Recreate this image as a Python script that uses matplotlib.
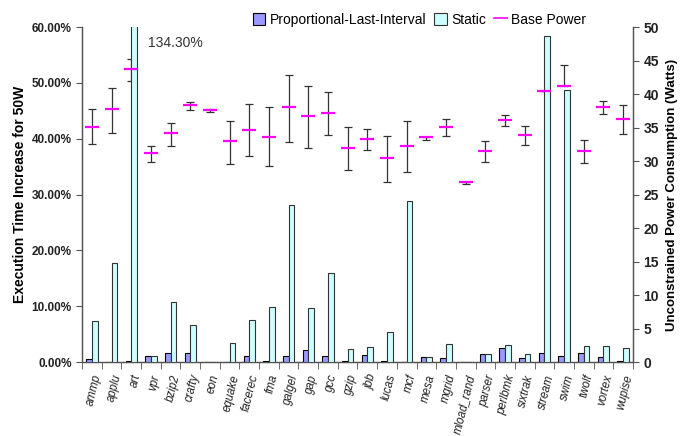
import matplotlib
matplotlib.use("Agg")
import matplotlib.pyplot as plt
import numpy as np
from matplotlib.ticker import FuncFormatter, MultipleLocator
from matplotlib.lines import Line2D
from matplotlib.patches import Patch

plt.rcParams['font.family'] = ['Liberation Sans', 'DejaVu Sans']

categories = ["ammp", "applu", "art", "vpr", "bzip2", "crafty", "eon", "equake",
              "facerec", "fma", "galgel", "gap", "gcc", "gzip", "jbb", "lucas",
              "mcf", "mesa", "mgrid", "mload_rand", "parser", "perlbmk", "sixtrak",
              "stream", "swim", "twolf", "vortex", "wupise"]

# execution time increase (%)
proportional = [0.5, 0.0, 0.1, 1.1, 1.7, 1.6, 0.0, 0.0, 1.0, 0.1, 1.0, 2.1, 1.0, 0.1,
                1.3, 0.25, 0.0, 0.95, 0.65, 0.0, 1.4, 2.45, 0.65, 1.6, 1.0, 1.6, 0.84, 0.1]
static = [7.3, 17.7, 134.3, 1.0, 10.7, 6.7, 0.0, 3.4, 7.5, 9.9, 28.1, 9.6, 15.9, 2.3,
          2.7, 5.3, 28.8, 0.95, 3.2, 0.0, 1.4, 3.1, 1.4, 58.4, 48.8, 2.8, 2.9, 2.45]

# base power (Watts) with min / max
base_power = [35.1, 37.8, 43.7, 31.2, 34.2, 38.4, 37.6, 33.0, 34.7, 33.6, 38.0, 36.7,
              37.2, 31.9, 33.3, 30.4, 32.2, 33.6, 35.1, 26.8, 31.5, 36.1, 33.9, 40.4,
              41.2, 31.5, 38.0, 36.3]
power_max = [37.8, 40.9, 45.3, 32.3, 35.7, 38.8, 37.7, 36.0, 38.5, 38.1, 42.9, 41.2,
             40.3, 35.1, 34.8, 33.7, 35.9, 33.6, 36.3, 26.8, 33.0, 36.8, 35.2, 40.4,
             44.4, 33.2, 38.9, 38.3]
power_min = [32.5, 34.2, 42.0, 29.9, 32.3, 37.6, 37.3, 29.6, 30.8, 29.3, 32.9, 32.0,
             33.9, 28.6, 31.6, 26.9, 28.3, 33.2, 33.7, 26.6, 29.9, 35.2, 32.4, 40.4,
             41.2, 29.7, 37.0, 34.1]

fig = plt.figure(figsize=(6.91, 4.36), dpi=100)
ax = fig.add_axes([0.1187, 0.1697, 0.7973, 0.7683])
ax2 = ax.twinx()

x = np.arange(len(categories))
w = 0.29
ax.set_zorder(2)
ax2.set_zorder(1)
ax.patch.set_visible(False)

ax.bar(x - w / 2, proportional, w, color='#9999FF', edgecolor='black', linewidth=0.8, zorder=3)
ax.bar(x + w / 2, static, w, color='#CCFFFF', edgecolor='#333333', linewidth=0.8, zorder=3)

bp = np.array(base_power)
lo = bp - np.array(power_min)
hi = np.array(power_max) - bp
ax2.errorbar(x, bp, yerr=[lo, hi], fmt='none', ecolor='#333333', elinewidth=0.9,
             capsize=2.7, capthick=0.9, zorder=1)

# magenta base power markers on top of bars (right-axis watts mapped onto left axis)
ax.plot(x, bp / 50 * 60, linestyle='none', marker='_', markersize=9.5,
        markeredgewidth=1.6, color='#FF00FF', zorder=5)

ax.set_xlim(-0.5, len(categories) - 0.5)
ax.set_ylim(0, 60)
ax2.set_ylim(0, 50)
ax.yaxis.set_major_locator(MultipleLocator(10))
ax.yaxis.set_major_formatter(FuncFormatter(lambda v, p: f"{v:.2f}%"))
ax2.yaxis.set_major_locator(MultipleLocator(5))

ax.set_xticks(x)
ax.set_xticklabels(categories, rotation=76, ha='right', rotation_mode='anchor',
                   fontstyle='italic', fontsize=8.3, color='#222222')
ax.set_xticks(np.arange(len(categories) + 1) - 0.5, minor=True)
ax.tick_params(axis='x', which='major', length=0, pad=8)
ax.tick_params(axis='x', which='minor', length=5, color='#555555', direction='out')

for a in (ax, ax2):
    a.spines['top'].set_visible(False)
    for s in ('left', 'right', 'bottom'):
        a.spines[s].set_color('#555555')
        a.spines[s].set_linewidth(0.9)

ax.tick_params(axis='y', labelsize=8.5, length=4, color='#555555')
ax2.tick_params(axis='y', labelsize=10, length=4, color='#555555')
for lbl in ax.get_yticklabels():
    lbl.set_fontweight('bold')
    lbl.set_color('#222222')
for lbl in ax2.get_yticklabels():
    lbl.set_fontweight('bold')
    lbl.set_color('#222222')

ax.set_ylabel("Execution Time Increase for 50W", fontsize=10, fontweight='bold', labelpad=3)
ax2.set_ylabel("Unconstrained Power Consumption (Watts)", fontsize=9.5, fontweight='bold', labelpad=5)

ax.text(2.85, 57.2, "134.30%", fontsize=10, color='#333333', va='center', ha='left')

handles = [Patch(facecolor='#9999FF', edgecolor='black', linewidth=0.8),
           Patch(facecolor='#CCFFFF', edgecolor='#333333', linewidth=0.8),
           Line2D([0], [0], color='#FF00FF', linewidth=1.2)]
leg = fig.legend(handles, ["Proportional-Last-Interval", "Static", "Base Power"],
                 loc='center', bbox_to_anchor=(0.607, 0.955), ncol=3, frameon=False,
                 fontsize=10, handlelength=0.9, handleheight=0.9, handletextpad=0.3,
                 columnspacing=0.6)

fig.savefig("out.png", dpi=100)
